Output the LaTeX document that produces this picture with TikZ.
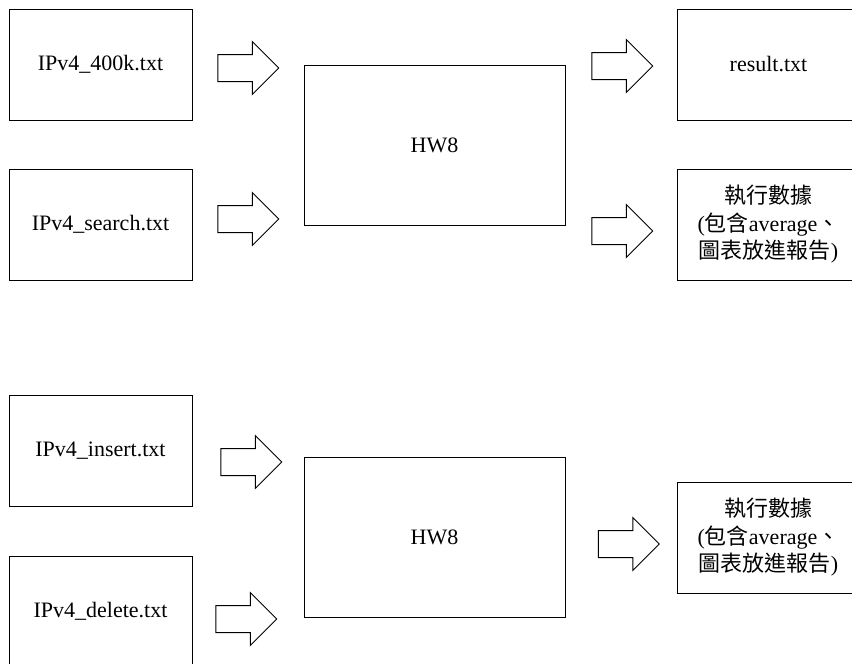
\documentclass[tikz,border=0pt]{standalone}
\usepackage{fontspec}
\setmainfont{Liberation Serif}
\newfontfamily\cjk{Noto Sans CJK TC}
\usetikzlibrary{positioning,shapes.arrows}

\begin{document}
\begin{tikzpicture}
[x=1pt,y=1pt,
 every node/.style={draw=black,line width=1pt,inner sep=0mm,outer sep=0mm,font=\fontsize{22}{27.5}\selectfont},
 file/.style={rectangle,minimum width=183pt,minimum height=111pt},
 prog/.style={rectangle,minimum width=261pt,minimum height=160pt},
 res/.style={rectangle,minimum width=183pt,minimum height=111pt,align=center},
 flow/.style={single arrow,minimum height=61pt,minimum width=52pt,inner xsep=0pt,inner ysep=13pt,
   single arrow head extend=13pt,single arrow head indent=0pt},
 line width=1pt]
\useasboundingbox (0,0) rectangle (852,-664);

% search part
\node[file] (in400k) at (100.5,-64.5)                        {IPv4\_400k.txt};
\node[file] (insrch) [on grid,below=160pt of in400k]          {IPv4\_search.txt};
\node[prog] (hw8A)   [on grid,below right=80.5pt and 334pt of in400k] {HW8};
\node[res]  (outtxt) [on grid,right=668pt of in400k]          {result.txt};
\node[res]  (statA)  [on grid,right=668pt of insrch]
  {{\cjk 執行數據}\\({\cjk 包含}average{\cjk 、}\\{\cjk 圖表放進報告})};
\node[flow] (fA) [on grid,below right=3.5pt and 141pt of in400k] {};
\node[flow] (fB) [on grid,above right=5.5pt and 141pt of insrch] {};
\node[flow] (fC) [on grid,above right=79pt and 181pt of hw8A]    {};
\node[flow] (fD) [on grid,below right=86pt and 181pt of hw8A]    {};

% insert / delete part
\node[file] (inins)  at (100.5,-451)                          {IPv4\_insert.txt};
\node[file] (indel)  [on grid,below=160.5pt of inins]         {IPv4\_delete.txt};
\node[prog] (hw8B)   [on grid,below right=86.5pt and 334pt of inins] {HW8};
\node[res]  (statB)  [on grid,right=334pt of hw8B]
  {{\cjk 執行數據}\\({\cjk 包含}average{\cjk 、}\\{\cjk 圖表放進報告})};
\node[flow] (fE) [on grid,below right=11pt and 144pt of inins]   {};
\node[flow] (fF) [on grid,below right=7.5pt and 139pt of indel]  {};
\node[flow] (fG) [on grid,below right=6.5pt and 187.5pt of hw8B] {};
\end{tikzpicture}
\end{document}
